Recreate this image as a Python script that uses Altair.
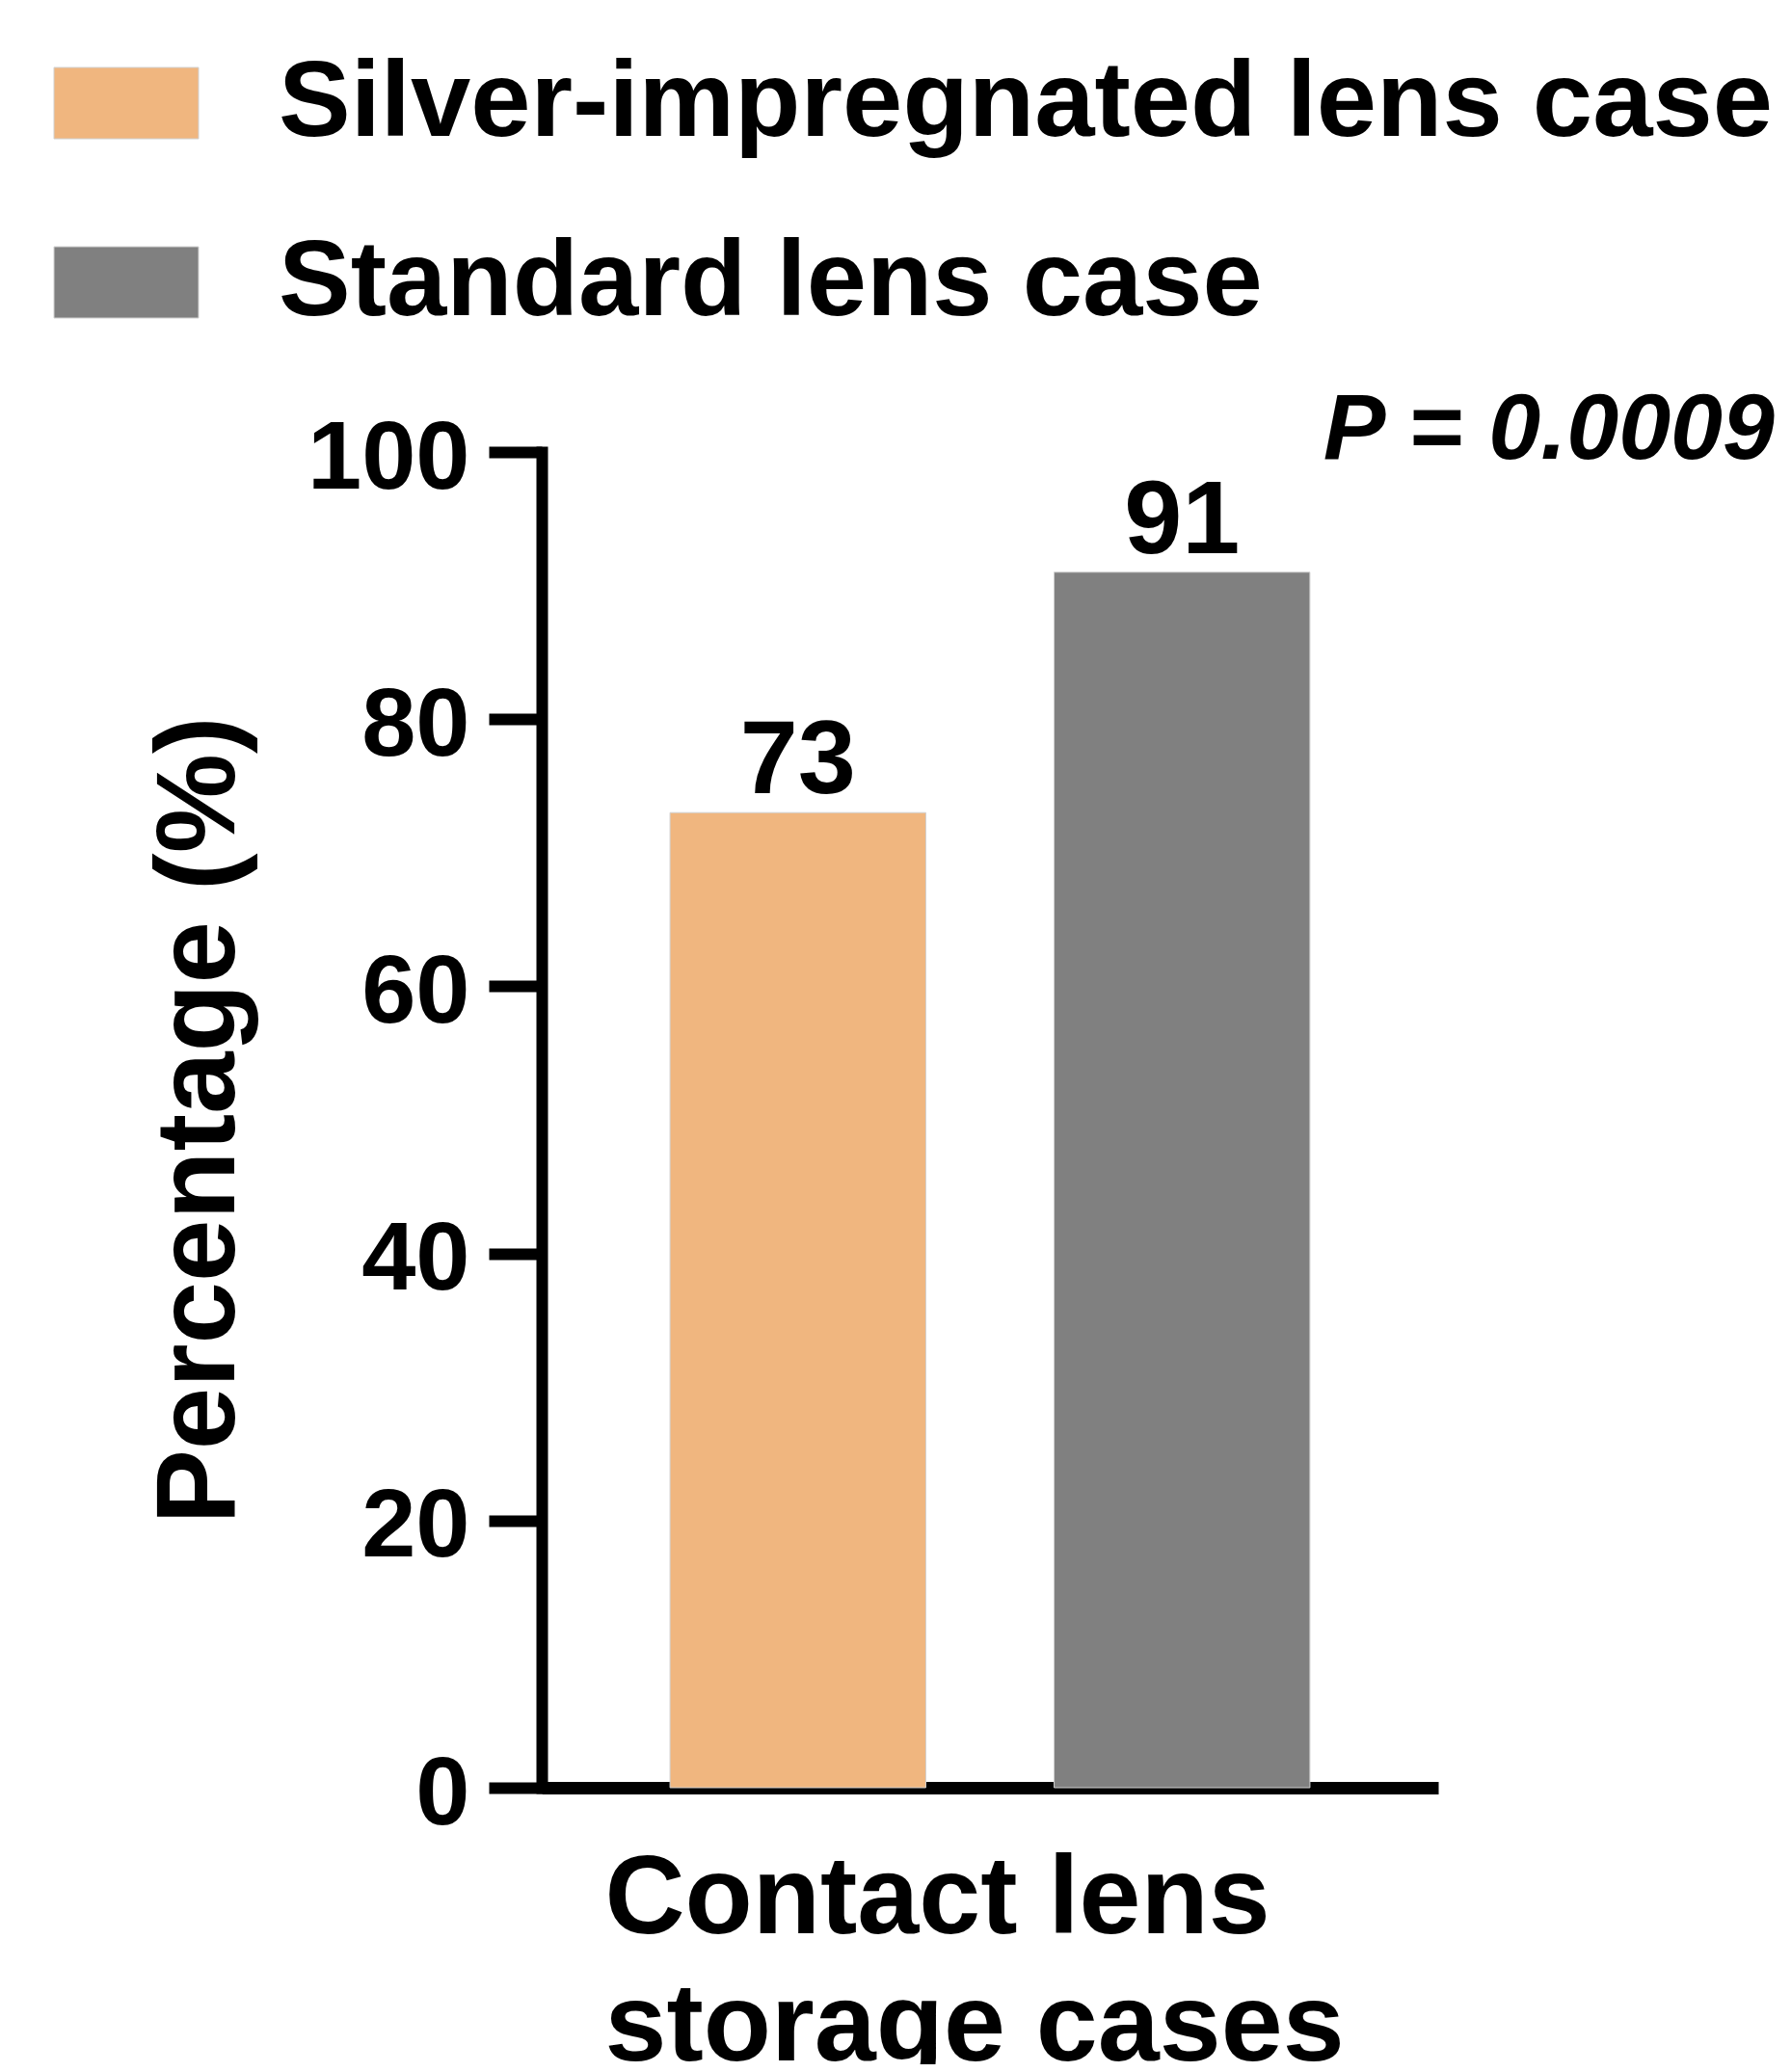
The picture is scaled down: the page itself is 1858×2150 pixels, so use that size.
import altair as alt
import pandas as pd

CASES = ["Silver-impregnated lens case", "Standard lens case"]
VALUES = [73, 91]
COLORS = ["#F0B67F", "#808080"]
Y_TICKS = [0, 20, 40, 60, 80, 100]
Y_TITLE = "Percentage (%)"
X_TITLE = ["Contact lens", "storage cases"]
P_LABEL = ["P = 0.0009"]

FONT = "Liberation Sans"

df = pd.DataFrame({"case": CASES, "value": VALUES})
pdf = pd.DataFrame({"label": P_LABEL})

x_enc = alt.X(
    "case:N",
    sort=CASES,
    scale=alt.Scale(range=[55, 985], paddingInner=0.334, paddingOuter=0.334),
    axis=alt.Axis(
        labels=False,
        ticks=False,
        domain=True,
        domainWidth=13,
        domainColor="black",
        title=X_TITLE,
        titleFont=FONT,
        titleFontSize=115,
        titleFontWeight="bold",
        titleColor="black",
        titleAlign="left",
        titleAnchor="start",
        titleBaseline="alphabetic",
        titleX=120,
        titleY=150,
        titleLineHeight=132,
    ),
)

y_enc = alt.Y(
    "value:Q",
    scale=alt.Scale(domain=[0, 100], nice=False),
    axis=alt.Axis(
        values=Y_TICKS,
        offset=-55,
        grid=False,
        domainWidth=12,
        domainColor="black",
        domainCap="square",
        tickSize=55,
        tickWidth=12,
        tickColor="black",
        labelFont=FONT,
        labelFontSize=101,
        labelFontWeight="bold",
        labelColor="black",
        labelPadding=20,
        labelBaseline="middle",
        labelOffset=7,
        title=Y_TITLE,
        titleFont=FONT,
        titleFontSize=116,
        titleFontWeight="bold",
        titleColor="black",
        titleAngle=270,
        titleBaseline="alphabetic",
        titleAlign="center",
        titleX=-320,
        titleY=693,
    ),
)

bars = alt.Chart(df).mark_bar(stroke="#d0d0d0", strokeWidth=1).encode(
    x=x_enc,
    y=y_enc,
    color=alt.Color(
        "case:N",
        sort=CASES,
        scale=alt.Scale(domain=CASES, range=COLORS),
        legend=alt.Legend(
            orient="none",
            legendX=-432,
            legendY=-418,
            title=None,
            padding=0,
            symbolType="M-2.027,-1H2.027V1H-2.027Z",
            symbolSize=5476,
            symbolStrokeWidth=1,
            symbolStrokeColor="#d0d0d0",
            labelFont=FONT,
            labelFontSize=112,
            labelFontWeight="bold",
            labelColor="black",
            labelLimit=2000,
            labelOffset=102,
            rowPadding=74,
        ),
    ),
)

values_text = alt.Chart(df).mark_text(
    dy=-20, baseline="alphabetic", align="center",
    font=FONT, fontSize=108, fontWeight="bold", color="black",
).encode(
    x=alt.X("case:N", sort=CASES),
    y=alt.Y("value:Q"),
    text=alt.Text("value:Q"),
)

p_text = alt.Chart(pdf).mark_text(
    align="right", baseline="alphabetic",
    font=FONT, fontSize=97, fontWeight="bold", fontStyle="italic", color="black",
).encode(
    x=alt.value(1334),
    y=alt.value(7),
    text="label:N",
)

chart = alt.layer(bars, values_text, p_text).properties(
    width=985,
    height=1386,
    autosize=alt.AutoSizeParams(type="none"),
    padding={"left": 499, "top": 461, "right": 358, "bottom": 287},
).configure_view(strokeWidth=0)

chart.save("out.html", embed_options={"renderer": "svg", "actions": False})
